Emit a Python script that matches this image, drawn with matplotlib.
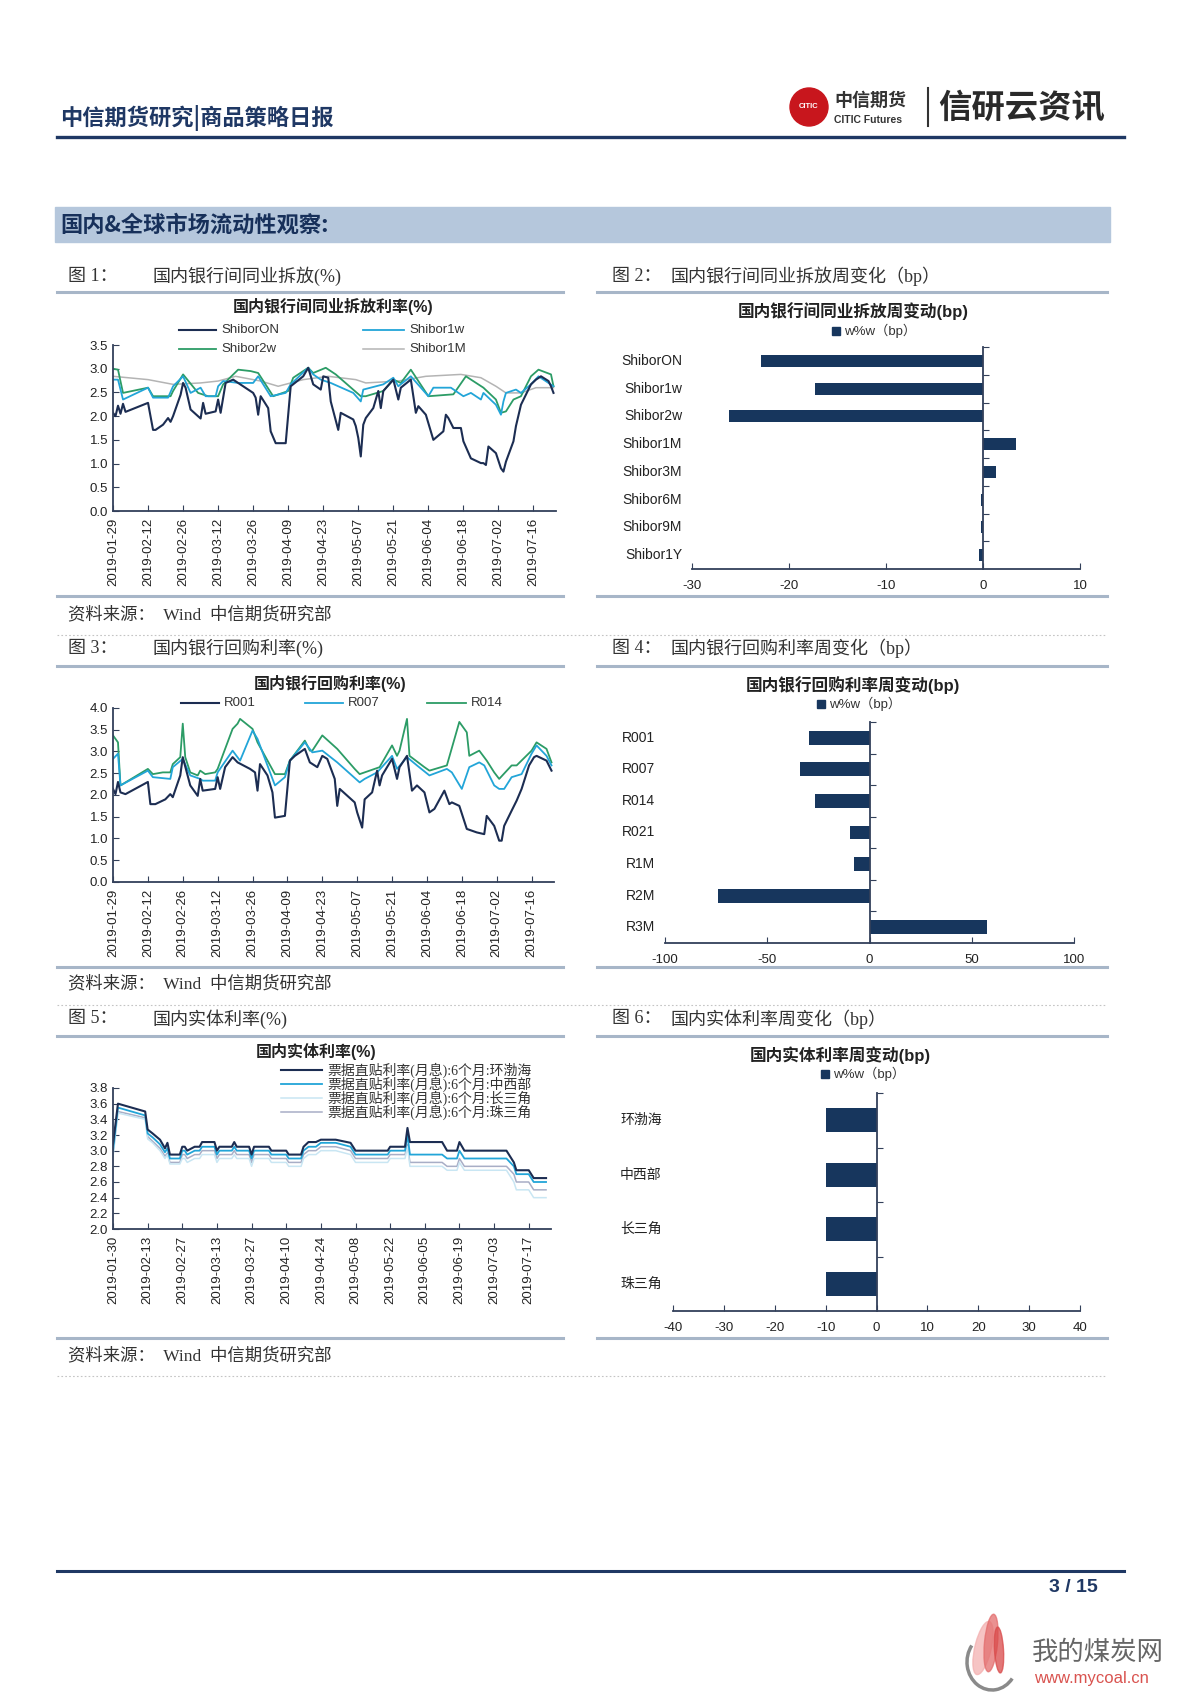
import numpy as np
import pandas as pd
import matplotlib
matplotlib.use('Agg')
import matplotlib.pyplot as plt
import matplotlib.transforms as mtransforms
from matplotlib.lines import Line2D
from matplotlib.patches import Rectangle, Ellipse, Arc

plt.rcParams['font.family'] = ['Liberation Sans', 'Noto Sans CJK SC', 'DejaVu Sans']
plt.rcParams['axes.unicode_minus'] = False
SERIF = ['Liberation Serif', 'Noto Sans CJK SC', 'DejaVu Sans']
CJK = ['Noto Sans CJK SC', 'DejaVu Sans']

# ------------------------------- 数据 -------------------------------
# 图1 国内银行间同业拆放利率(%)
on_dates = ['01-29', '01-30', '01-31', '02-01', '02-02', '02-03', '02-12', '02-14', '02-15', '02-18',
            '02-19', '02-20', '02-21', '02-22', '02-25', '02-26', '02-27', '03-01', '03-05', '03-06',
            '03-07', '03-11', '03-12', '03-13', '03-15', '03-18', '03-20', '03-22', '03-26', '03-27',
            '03-28', '03-29', '04-01', '04-02', '04-04', '04-08', '04-10', '04-15', '04-17', '04-19',
            '04-22', '04-23', '04-25', '04-26', '04-29', '04-30', '05-05', '05-06', '05-07', '05-08',
            '05-09', '05-10', '05-13', '05-15', '05-16', '05-17', '05-21', '05-23', '05-24', '05-28',
            '05-30', '05-31', '06-03', '06-06', '06-10', '06-11', '06-12', '06-14', '06-17', '06-18',
            '06-21', '06-25', '06-26', '06-27', '06-28', '07-01', '07-03', '07-04', '07-05', '07-08',
            '07-09', '07-11', '07-15', '07-17', '07-19', '07-22', '07-23', '07-24']
on_vals = [2.07, 2.0, 2.22, 2.05, 2.26, 2.09, 2.28, 1.71, 1.71, 1.82,
           1.89, 1.96, 1.88, 2.0, 2.45, 2.7, 2.6, 2.14, 1.95, 2.28,
           2.05, 2.1, 2.35, 2.07, 2.7, 2.77, 2.7, 2.63, 2.49, 2.39,
           2.03, 2.42, 2.17, 1.68, 1.43, 1.43, 2.63, 2.84, 3.02, 2.67,
           2.56, 2.84, 2.81, 2.31, 1.71, 2.07, 1.93, 1.79, 1.54, 1.15,
           1.82, 1.96, 2.17, 2.53, 2.17, 2.53, 2.77, 2.35, 2.6, 2.77,
           2.07, 2.21, 2.03, 1.5, 1.68, 2.03, 1.96, 1.75, 1.75, 1.47,
           1.11, 1.01, 1.01, 0.97, 1.36, 1.22, 0.9, 0.83, 1.04, 1.47,
           1.79, 2.24, 2.67, 2.77, 2.84, 2.74, 2.63, 2.49]
w1_dates = ['01-29', '01-31', '02-02', '02-12', '02-14', '02-20', '02-22', '02-26', '03-01', '03-05',
            '03-07', '03-11', '03-12', '03-14', '03-20', '03-26', '03-28', '04-02', '04-08', '04-10',
            '04-17', '04-19', '04-22', '04-26', '05-05', '05-08', '05-09', '05-17', '05-21', '05-23',
            '05-28', '06-04', '06-06', '06-13', '06-18', '06-21', '06-25', '06-26', '07-01', '07-03',
            '07-04', '07-05', '07-09', '07-11', '07-15', '07-18', '07-22', '07-24']
w1_vals = [2.77, 2.77, 2.35, 2.6, 2.39, 2.39, 2.63, 2.84, 2.49, 2.6,
           2.42, 2.42, 2.63, 2.74, 2.7, 2.7, 2.84, 2.42, 2.49, 2.67,
           3.02, 2.88, 2.77, 2.7, 2.49, 2.31, 2.56, 2.67, 2.81, 2.63,
           2.84, 2.42, 2.6, 2.6, 2.42, 2.49, 2.35, 2.49, 2.24, 2.03,
           2.31, 2.49, 2.56, 2.49, 2.67, 2.84, 2.7, 2.63]
w2_dates = ['01-29', '01-31', '02-02', '02-12', '02-14', '02-21', '02-22', '02-26', '03-04', '03-08',
            '03-12', '03-14', '03-20', '03-25', '03-28', '04-03', '04-09', '04-11', '04-17', '04-19',
            '04-24', '04-28', '05-08', '05-10', '05-17', '05-21', '05-24', '05-28', '06-04', '06-14',
            '06-19', '06-26', '07-01', '07-03', '07-05', '07-08', '07-11', '07-15', '07-18', '07-23',
            '07-24']
w2_vals = [3.0, 2.98, 2.49, 2.6, 2.42, 2.42, 2.53, 2.88, 2.49, 2.42,
           2.42, 2.67, 2.98, 2.95, 2.91, 2.42, 2.53, 2.81, 3.02, 2.91,
           3.02, 2.88, 2.42, 2.42, 2.53, 2.77, 2.7, 2.98, 2.42, 2.46,
           2.84, 2.6, 2.35, 2.07, 2.1, 2.35, 2.42, 2.84, 2.98, 2.88,
           2.63]
m1_dates = ['01-29', '02-12', '02-22', '03-05', '03-12', '03-19', '03-29', '04-05', '04-15', '04-25',
            '05-06', '05-10', '05-23', '06-03', '06-17', '06-25', '07-01', '07-05', '07-11', '07-17',
            '07-24']
m1_vals = [2.84, 2.77, 2.67, 2.7, 2.74, 2.84, 2.74, 2.63, 2.77, 2.84,
           2.77, 2.7, 2.74, 2.84, 2.88, 2.81, 2.63, 2.49, 2.49, 2.6,
           2.6]

# 图2 同业拆放周变动(bp)
shibor_names = ['ShiborON', 'Shibor1w', 'Shibor2w', 'Shibor1M', 'Shibor3M', 'Shibor6M', 'Shibor9M', 'Shibor1Y']
shibor_chg = [-22.9, -17.3, -26.2, 3.4, 1.3, -0.2, -0.2, -0.4]

# 图3 国内银行回购利率(%)
r001_dates = ['01-29', '01-30', '01-31', '02-01', '02-03', '02-12', '02-13', '02-15', '02-19', '02-21',
              '02-22', '02-25', '02-26', '03-01', '03-04', '03-05', '03-06', '03-11', '03-12', '03-13',
              '03-15', '03-18', '03-20', '03-25', '03-27', '03-28', '03-29', '04-01', '04-03', '04-04',
              '04-08', '04-10', '04-12', '04-16', '04-18', '04-21', '04-23', '04-25', '04-28', '04-29',
              '04-30', '05-06', '05-07', '05-09', '05-10', '05-13', '05-15', '05-16', '05-17', '05-21',
              '05-23', '05-24', '05-27', '05-29', '05-31', '06-03', '06-05', '06-07', '06-11', '06-13',
              '06-14', '06-17', '06-20', '06-24', '06-27', '06-28', '07-01', '07-03', '07-04', '07-05',
              '07-08', '07-10', '07-12', '07-15', '07-17', '07-18', '07-22', '07-24']
r001_vals = [2.14, 2.02, 2.3, 2.06, 2.02, 2.3, 1.79, 1.79, 1.9, 2.02,
             1.95, 2.45, 2.87, 2.22, 1.98, 2.37, 2.1, 2.14, 2.41, 2.14,
             2.64, 2.87, 2.75, 2.6, 2.52, 2.1, 2.71, 2.45, 2.06, 1.48,
             1.52, 2.79, 2.9, 3.06, 2.75, 2.64, 2.9, 2.83, 2.37, 1.75,
             2.14, 1.83, 1.6, 1.25, 1.9, 2.06, 2.56, 2.22, 2.45, 2.83,
             2.37, 2.64, 2.9, 2.1, 2.22, 2.06, 1.6, 1.68, 2.1, 1.79,
             1.83, 1.75, 1.22, 1.14, 1.1, 1.52, 1.29, 0.95, 0.95, 1.29,
             1.64, 1.87, 2.14, 2.68, 2.87, 2.9, 2.79, 2.56]
r007_dates = ['01-29', '01-31', '02-01', '02-12', '02-14', '02-21', '02-22', '02-26', '03-01', '03-05',
              '03-06', '03-11', '03-12', '03-18', '03-21', '03-26', '03-28', '04-04', '04-08', '04-10',
              '04-16', '04-19', '04-23', '04-29', '05-08', '05-10', '05-15', '05-21', '05-23', '05-27',
              '05-31', '06-05', '06-12', '06-14', '06-18', '06-21', '06-25', '06-27', '07-01', '07-03',
              '07-05', '07-08', '07-12', '07-16', '07-18', '07-22', '07-24']
r007_vals = [2.83, 2.95, 2.22, 2.56, 2.41, 2.37, 2.64, 2.83, 2.45, 2.37,
             2.33, 2.33, 2.52, 3.02, 2.79, 3.48, 3.29, 2.22, 2.41, 2.79,
             3.21, 2.98, 3.02, 2.75, 2.29, 2.37, 2.52, 2.9, 2.6, 2.87,
             2.68, 2.45, 2.6, 2.52, 2.14, 2.64, 2.75, 2.68, 2.22, 2.14,
             2.14, 2.41, 2.48, 2.95, 3.14, 2.9, 2.68]
r014_dates = ['01-29', '01-31', '02-01', '02-12', '02-14', '02-18', '02-21', '02-22', '02-25', '02-26',
              '02-27', '03-01', '03-04', '03-05', '03-07', '03-11', '03-12', '03-18', '03-20', '03-21',
              '03-26', '03-28', '04-04', '04-08', '04-10', '04-16', '04-18', '04-19', '04-23', '04-29',
              '05-06', '05-08', '05-10', '05-16', '05-21', '05-23', '05-24', '05-27', '05-28', '06-03',
              '06-05', '06-12', '06-17', '06-20', '06-21', '06-25', '06-28', '07-01', '07-03', '07-08',
              '07-10', '07-16', '07-18', '07-22', '07-24']
r014_vals = [3.37, 3.21, 2.22, 2.6, 2.48, 2.52, 2.52, 2.71, 2.87, 3.64,
             2.87, 2.52, 2.45, 2.56, 2.48, 2.52, 2.6, 3.52, 3.64, 3.75,
             3.52, 3.21, 2.48, 2.48, 2.79, 3.25, 3.02, 3.02, 3.37, 3.06,
             2.6, 2.48, 2.52, 2.64, 3.14, 2.9, 3.02, 3.75, 2.9, 2.64,
             2.56, 2.68, 3.68, 3.44, 2.9, 3.02, 2.79, 2.52, 2.37, 2.68,
             2.68, 3.02, 3.21, 3.06, 2.75]

# 图4 回购利率周变动(bp)
repo_names = ['R001', 'R007', 'R014', 'R021', 'R1M', 'R2M', 'R3M']
repo_chg = [-29.8, -34.2, -26.6, -9.7, -7.6, -73.9, 57.6]

# 图5 国内实体利率(%)  票据直贴利率(月息):6个月
bill_dates = ['01-30', '02-01', '02-12', '02-13', '02-15', '02-18', '02-20', '02-21', '02-22', '02-26',
              '02-27', '02-28', '03-01', '03-04', '03-06', '03-07', '03-12', '03-13', '03-14', '03-19',
              '03-20', '03-21', '03-26', '03-27', '03-28', '04-03', '04-04', '04-10', '04-11', '04-16',
              '04-17', '04-19', '04-22', '04-24', '04-30', '05-06', '05-08', '05-21', '05-22', '05-28',
              '05-29', '05-30', '06-12', '06-14', '06-18', '06-19', '06-21', '07-03', '07-08', '07-11',
              '07-12', '07-17', '07-19', '07-24']
bill_hbh = [3.08, 3.6, 3.5, 3.27, 3.22, 3.14, 3.03, 3.1, 2.95, 2.95,
            3.05, 3.05, 3.0, 3.05, 3.05, 3.11, 3.11, 3.0, 3.05, 3.05,
            3.11, 3.05, 3.05, 2.95, 3.05, 3.05, 3.0, 3.0, 2.95, 2.95,
            3.05, 3.11, 3.11, 3.14, 3.14, 3.1, 3.0, 3.0, 3.05, 3.05,
            3.29, 3.11, 3.11, 3.0, 3.0, 3.11, 3.0, 3.0, 3.0, 2.85,
            2.75, 2.75, 2.65, 2.65]
bill_zxb = [3.0, 3.55, 3.45, 3.22, 3.17, 3.08, 2.98, 3.03, 2.9, 2.9,
            3.0, 3.0, 2.95, 3.0, 3.0, 3.05, 3.05, 2.95, 3.0, 3.0,
            3.05, 3.0, 3.0, 2.9, 3.0, 3.0, 2.95, 2.95, 2.9, 2.9,
            3.0, 3.05, 3.05, 3.1, 3.1, 3.05, 2.95, 2.95, 3.0, 3.0,
            3.2, 2.95, 2.95, 2.9, 2.9, 3.0, 2.9, 2.9, 2.9, 2.8,
            2.7, 2.7, 2.6, 2.6]
bill_csj = [2.92, 3.48, 3.4, 3.15, 3.1, 3.0, 2.9, 2.95, 2.83, 2.83,
            2.9, 2.9, 2.85, 2.9, 2.9, 2.95, 2.95, 2.85, 2.9, 2.9,
            2.95, 2.9, 2.9, 2.8, 2.9, 2.9, 2.85, 2.85, 2.8, 2.8,
            2.9, 2.95, 2.95, 3.0, 3.0, 2.95, 2.85, 2.85, 2.9, 2.9,
            3.05, 2.8, 2.8, 2.75, 2.75, 2.85, 2.75, 2.75, 2.75, 2.6,
            2.5, 2.5, 2.4, 2.4]
bill_zsj = [2.95, 3.5, 3.42, 3.18, 3.12, 3.03, 2.93, 2.97, 2.85, 2.85,
            2.95, 2.95, 2.9, 2.95, 2.95, 3.0, 3.0, 2.9, 2.95, 2.95,
            3.0, 2.95, 2.95, 2.85, 2.95, 2.95, 2.9, 2.9, 2.85, 2.85,
            2.95, 3.0, 3.0, 3.05, 3.05, 3.0, 2.9, 2.9, 2.95, 2.95,
            3.08, 2.85, 2.85, 2.8, 2.8, 2.9, 2.8, 2.8, 2.8, 2.7,
            2.6, 2.6, 2.5, 2.5]
bill_labels = ['票据直贴利率(月息):6个月:环渤海', '票据直贴利率(月息):6个月:中西部',
               '票据直贴利率(月息):6个月:长三角', '票据直贴利率(月息):6个月:珠三角']

# 图6 实体利率周变动(bp)
region_names = ['环渤海', '中西部', '长三角', '珠三角']
region_chg = [-10, -10, -10, -10]

# ------------------------------- 版面工具 -------------------------------
W, H = 1200, 1696
fig = plt.figure(figsize=(12, 16.96), dpi=100)
NAVY = '#1c2d52'
BAR = '#17365d'
CYAN = '#22a5d8'
GREEN = '#2c9c66'
GRAY = '#b4b4b4'
AXC = '#33405a'


def fx(x):
    return x / W


def fy(y):
    return 1 - y / H


def add_ax(x0, y0, x1, y1):
    return fig.add_axes([fx(x0), fy(y1), (x1 - x0) / W, (y1 - y0) / H])


def hline(x0, x1, y, **kw):
    fig.add_artist(Line2D([fx(x0), fx(x1)], [fy(y), fy(y)], transform=fig.transFigure, **kw))


def txt(x, y, s, **kw):
    kw.setdefault('va', 'center')
    return fig.text(fx(x), fy(y), s, **kw)


def to_dt(lst):
    return pd.to_datetime(['2019-' + d for d in lst])


def line_chart(box, start, ylim, yticks):
    ax = add_ax(*box)
    d0 = pd.Timestamp('2019-' + start)
    ax.set_xlim(d0, d0 + pd.Timedelta(days=177))
    ax.set_ylim(*ylim)
    ax.set_yticks(yticks)
    ax.set_yticklabels(['%.1f' % v for v in yticks])
    ticks = pd.date_range(d0, periods=13, freq='14D')
    ax.set_xticks(ticks)
    ax.set_xticklabels([t.strftime('%Y-%m-%d') for t in ticks], rotation=90)
    for s in ['top', 'right']:
        ax.spines[s].set_visible(False)
    for s in ['left', 'bottom']:
        ax.spines[s].set_color(AXC)
        ax.spines[s].set_linewidth(1.3)
    ax.tick_params(direction='in', length=4, color=AXC, labelsize=9.5, labelcolor='#222222')
    ax.tick_params(axis='x', pad=5)
    ax.patch.set_alpha(0)
    return ax


def bar_chart(box, cats, vals, xlim, xticks, label_x, ha, fsize):
    ax = add_ax(*box)
    y = np.arange(len(cats))
    ax.barh(y, vals, height=0.44, color=BAR, zorder=2)
    ax.set_ylim(len(cats) - 0.5, -0.5)
    ax.set_xlim(*xlim)
    ax.set_xticks(xticks)
    ax.set_yticks(np.arange(len(cats)) - 0.5)
    ax.set_yticklabels([])
    ax.spines['left'].set_position(('data', 0))
    for s in ['top', 'right']:
        ax.spines[s].set_visible(False)
    for s in ['left', 'bottom']:
        ax.spines[s].set_color(AXC)
        ax.spines[s].set_linewidth(1.3)
    ax.tick_params(direction='in', length=4, color=AXC, labelsize=9.5, labelcolor='#222222')
    ax.tick_params(axis='x', pad=8)
    tr = mtransforms.blended_transform_factory(fig.transFigure, ax.transData)
    for yi, c in zip(y, cats):
        ax.text(fx(label_x), yi, c, transform=tr, ha=ha, va='center', fontsize=fsize, color='#222222')
    return ax


def bar_legend(x, y):
    fig.add_artist(Rectangle((fx(x), fy(y + 4)), 8 / W, 8 / H, transform=fig.transFigure, color=BAR))
    txt(x + 12, y, 'w%w（bp）', fontsize=9.5, color='#333333')


def legend_item(x0, x1, y, color, lw, label, fsize=9.5, family=None):
    hline(x0, x1, y, color=color, lw=lw)
    kw = {'fontsize': fsize, 'color': '#333333'}
    if family:
        kw['family'] = family
    txt(x1 + 5, y, label, **kw)


# ------------------------------- 页眉 -------------------------------
txt(60, 118, '中信期货研究|商品策略日报', fontsize=16, color='#1f3864', family=CJK, weight='bold')
hline(57, 1124, 137, color='#1f3864', lw=2.4)
fig.add_artist(Ellipse((fx(809), fy(107)), 38 / W, 38 / H, transform=fig.transFigure, color='#c8161d'))
txt(809, 107, 'CITIC', fontsize=5.5, color='white', ha='center', weight='bold')
txt(834, 100, '中信期货', fontsize=13, color='#333333', family=CJK, weight='bold')
txt(834, 120, 'CITIC Futures', fontsize=7.5, color='#333333', weight='bold')
fig.add_artist(Line2D([fx(928), fx(928)], [fy(88), fy(126)], transform=fig.transFigure, color='#333333', lw=1.5))
txt(938, 108, '信研云资讯', fontsize=24, color='#2a2a2a', family=CJK, weight='bold')

# 标题栏
fig.add_artist(Rectangle((fx(55), fy(242)), (1110 - 55) / W, 35 / H, transform=fig.transFigure,
                         color='#b5c7dc', zorder=0))
txt(60, 225, '国内&全球市场流动性观察:', fontsize=16, color='#17305a', family=CJK, weight='bold')

# 图标题、分隔线、资料来源
rows = [(276, 292, 596, 615, 635), (648, 666, 967, 984, 1005), (1019, 1036, 1338, 1356, 1376)]
left_titles = ['国内银行间同业拆放(%)', '国内银行回购利率(%)', '国内实体利率(%)']
right_titles = ['国内银行间同业拆放周变化（bp）', '国内银行回购利率周变化（bp）', '国内实体利率周变化（bp）']
for i, (ty, ly, by, sy, dy) in enumerate(rows):
    txt(68, ty, '图 %d：' % (2 * i + 1), fontsize=13, color='#333333', family=SERIF)
    txt(153, ty, left_titles[i], fontsize=13, color='#333333', family=SERIF)
    txt(612, ty, '图 %d：' % (2 * i + 2), fontsize=13, color='#333333', family=SERIF)
    txt(670, ty, right_titles[i], fontsize=13, color='#333333', family=SERIF)
    hline(57, 563, ly, color='#a7b6c8', lw=2.2)
    hline(597, 1107, ly, color='#a7b6c8', lw=2.2)
    hline(57, 563, by, color='#a7b6c8', lw=2.2)
    hline(597, 1107, by, color='#a7b6c8', lw=2.2)
    txt(68, sy, '资料来源：  Wind  中信期货研究部', fontsize=12.5, color='#333333', family=SERIF)
    hline(57, 1107, dy, color='#c4c4c4', lw=0.8, ls=(0, (1.5, 2)))

# ------------------------------- 图1 -------------------------------
ax1 = line_chart((113, 345, 556, 511), '01-29', (0, 3.5), np.arange(0, 3.51, 0.5))
ax1.plot(to_dt(m1_dates), m1_vals, color=GRAY, lw=1.1)
ax1.plot(to_dt(w2_dates), w2_vals, color=GREEN, lw=1.3)
ax1.plot(to_dt(w1_dates), w1_vals, color=CYAN, lw=1.3)
ax1.plot(to_dt(on_dates), on_vals, color=NAVY, lw=1.5)
txt(333, 306, '国内银行间同业拆放利率(%)', fontsize=11.5, weight='bold', color='#222222', ha='center')
legend_item(179, 216, 330, NAVY, 1.5, 'ShiborON')
legend_item(363, 404, 330, CYAN, 1.3, 'Shibor1w')
legend_item(179, 216, 349, GREEN, 1.3, 'Shibor2w')
legend_item(363, 404, 349, GRAY, 1.1, 'Shibor1M')

# ------------------------------- 图2 -------------------------------
bar_chart((692, 347, 1080, 569), shibor_names, shibor_chg, (-30, 10), [-30, -20, -10, 0, 10], 682, 'right', 10)
txt(853, 311, '国内银行间同业拆放周变动(bp)', fontsize=12, weight='bold', color='#222222', ha='center')
bar_legend(832, 331)

# ------------------------------- 图3 -------------------------------
ax3 = line_chart((113, 708, 554, 882), '01-29', (0, 4.0), np.arange(0, 4.01, 0.5))
ax3.plot(to_dt(r014_dates), r014_vals, color=GREEN, lw=1.3)
ax3.plot(to_dt(r007_dates), r007_vals, color=CYAN, lw=1.3)
ax3.plot(to_dt(r001_dates), r001_vals, color=NAVY, lw=1.5)
txt(330, 683, '国内银行回购利率(%)', fontsize=11.5, weight='bold', color='#222222', ha='center')
legend_item(181, 219, 703, NAVY, 1.5, 'R001')
legend_item(305, 343, 703, CYAN, 1.3, 'R007')
legend_item(427, 466, 703, GREEN, 1.3, 'R014')

# ------------------------------- 图4 -------------------------------
bar_chart((665, 722, 1074, 943), repo_names, repo_chg, (-100, 100), [-100, -50, 0, 50, 100], 655, 'right', 10)
txt(853, 685, '国内银行回购利率周变动(bp)', fontsize=12, weight='bold', color='#222222', ha='center')
bar_legend(817, 704)

# ------------------------------- 图5 -------------------------------
ax5 = line_chart((113, 1088, 551, 1229), '01-30', (2.0, 3.8), np.arange(2.0, 3.81, 0.2))
bill_colors = [NAVY, CYAN, '#c9e6f3', '#a8aec6']
bill_lw = [1.5, 1.3, 1.1, 1.1]
bill_series = [bill_hbh, bill_zxb, bill_csj, bill_zsj]
for k in [3, 2, 1, 0]:
    ax5.plot(to_dt(bill_dates), bill_series[k], color=bill_colors[k], lw=bill_lw[k])
txt(316, 1051, '国内实体利率(%)', fontsize=11.5, weight='bold', color='#222222', ha='center')
for k, yy in enumerate([1070, 1084, 1098, 1112]):
    legend_item(281, 322, yy, bill_colors[k], bill_lw[k], bill_labels[k], fsize=10, family=SERIF)

# ------------------------------- 图6 -------------------------------
bar_chart((673, 1093, 1080, 1311), region_names, region_chg, (-40, 40), list(range(-40, 41, 10)), 620, 'left', 10)
txt(840, 1055, '国内实体利率周变动(bp)', fontsize=12, weight='bold', color='#222222', ha='center')
bar_legend(821, 1074)

# ------------------------------- 页脚 -------------------------------
hline(57, 1124, 1571, color='#1f3864', lw=2.2)
txt(1073, 1587, '3 / 15', fontsize=14, weight='bold', color='#1f3864', ha='center')
fig.add_artist(Arc((fx(992), fy(1662)), 50 / W, 56 / H, angle=0, theta1=150, theta2=330,
                   transform=fig.transFigure, color='#8a8a8a', lw=2.5))
for (cx, cy, w, h, ang, col) in [(983, 1648, 16, 56, -20, '#f3b0b0'), (991, 1643, 13, 58, -8, '#e36d6d'),
                                 (999, 1650, 9, 46, 5, '#d94a4a')]:
    fig.add_artist(Ellipse((fx(cx), fy(cy)), w / W, h / H, angle=ang, transform=fig.transFigure,
                           color=col, alpha=0.75))
txt(1032, 1652, '我的煤炭网', fontsize=19, color='#666666', family=CJK)
txt(1034, 1678, 'www.mycoal.cn', fontsize=12, color='#d9534f')

fig.savefig('out.png', dpi=100)
